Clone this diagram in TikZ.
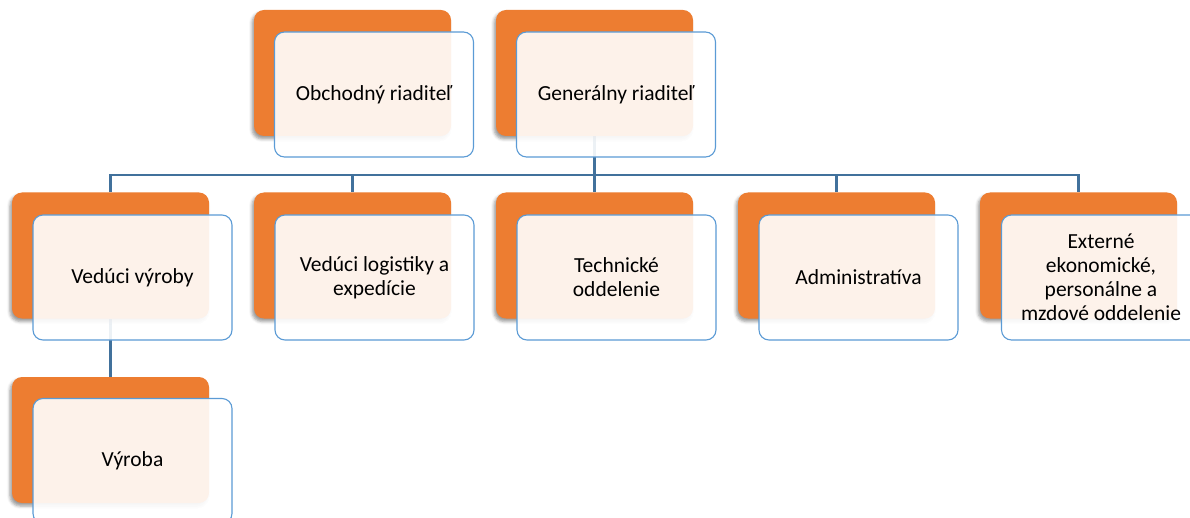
\documentclass[tikz,border=0pt]{standalone}
\usepackage{fontspec}
\setmainfont{Carlito}
\usetikzlibrary{shadows.blur,backgrounds}
\definecolor{orgfill}{HTML}{ED7D31}
\definecolor{cardline}{HTML}{5B9BD5}
\definecolor{connline}{HTML}{41719C}
\tikzset{
  backcard/.style={rectangle, rounded corners=10pt, fill=orgfill, minimum width=197pt, minimum height=126pt, inner sep=0pt,
    blur shadow={shadow xshift=-2pt, shadow yshift=-3pt, shadow blur radius=3pt, shadow opacity=40}},
  frontcard/.style={rectangle, rounded corners=10pt, draw=cardline, line width=1.1pt, fill=white, fill opacity=0.9, text opacity=1,
    minimum width=199pt, minimum height=125pt, inner sep=2pt, align=center, text=black,
    font=\fontsize{21.5}{24}\selectfont},
  conn/.style={draw=connline, line width=2.5pt}
}
\begin{document}
\begin{tikzpicture}[x=1pt,y=-1pt]
\path[use as bounding box, clip] (0,0) rectangle (1190,518);
\coordinate (bus) at (0,175);
% back (orange) cards
\node[backcard] (ob) at (352.5,73) {};
\node[backcard] (og) at (594.5,73) {};
\node[backcard] (o1) at (110.5,255.5) {};
\node[backcard] (o2) at (352.5,255.5) {};
\node[backcard] (o3) at (594.5,255.5) {};
\node[backcard] (o4) at (836.5,255.5) {};
\node[backcard] (o5) at (1078.5,255.5) {};
\node[backcard] (o6) at (110.5,440) {};
% connectors, behind the cards
\begin{scope}[on background layer]
\foreach \c in {o1,o2,o3,o4,o5}{
  \draw[conn] (og.south) -- (og.south |- bus) -| (\c.north);
}
\draw[conn] (o1.south) -- (o6.north);
\end{scope}
% front cards
\node[frontcard] (wb) at (374,94.5) {Obchodný riaditeľ};
\node[frontcard] (wg) at (616,94.5) {Generálny riaditeľ};
\node[frontcard] (w1) at (132.5,277.5) {Vedúci výroby};
\node[frontcard] (w2) at (374.5,277.5) {Vedúci logistiky a\\expedície};
\node[frontcard] (w3) at (616.5,277.5) {Technické\\oddelenie};
\node[frontcard] (w4) at (858.5,277.5) {Administratíva};
\node[frontcard] (w5) at (1101,277.5) {Externé\\ekonomické,\\personálne a\\mzdové oddelenie};
\node[frontcard] (w6) at (132.5,461) {Výroba};
\end{tikzpicture}
\end{document}
